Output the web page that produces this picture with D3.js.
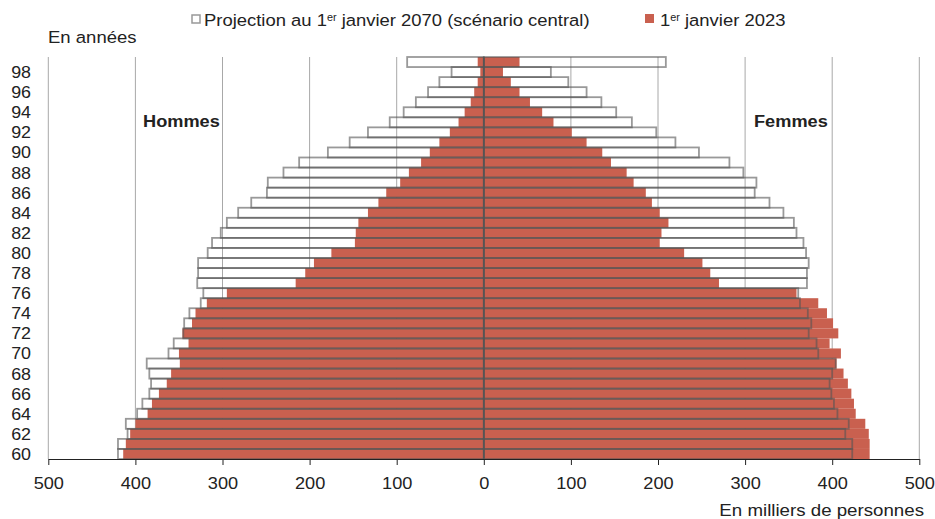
<!DOCTYPE html>
<html>
<head>
<meta charset="utf-8">
<script src="https://cdn.jsdelivr.net/npm/d3@7"></script>
<style>
  body { margin: 0; background: #fff; }
  text { font-family: "Liberation Sans", Arial, sans-serif; fill: #222; }
</style>
</head>
<body>
<svg id="svg" width="935" height="519"></svg>
<script>
// ages 60 .. 99 (99 = 99 ans et plus)
const ages = d3.range(60, 100);
const hommes2023 = [414, 411, 406, 400, 386, 381, 373, 364, 359, 349, 350, 339, 346, 335, 331, 318, 295, 216, 205, 195,
                    175, 148, 147, 144, 133, 121, 112, 96, 86, 72, 62, 51, 39, 29, 22, 15, 11, 7, 4, 7];
const hommes2070 = [420, 420, 409, 411, 398, 392, 384, 382, 384, 387, 362, 356, 345, 344, 338, 325, 322, 329, 328, 328,
                    317, 312, 302, 295, 282, 267, 249, 248, 230, 212, 179, 154, 133, 108, 92, 78, 64, 51, 37, 88];
const femmes2023 = [443, 443, 442, 438, 427, 425, 422, 418, 413, 405, 410, 397, 407, 401, 394, 384, 359, 270, 260, 251,
                    230, 202, 204, 212, 202, 193, 186, 172, 164, 146, 136, 118, 101, 80, 67, 53, 41, 31, 22, 41];
const femmes2070 = [423, 423, 415, 419, 406, 402, 399, 397, 400, 404, 384, 382, 373, 376, 372, 363, 361, 371, 371, 373,
                    370, 367, 359, 356, 344, 328, 311, 313, 298, 282, 247, 220, 198, 170, 152, 135, 118, 97, 77, 209];
const xTicks = [-500, -400, -300, -200, -100, 0, 100, 200, 300, 400, 500];
const yTicks = d3.range(60, 100, 2);

const svg = d3.select('#svg');
const x = d3.scaleLinear().domain([-500, 500]).range([48.3, 919.3]);
const y = d3.scaleBand().domain(ages.slice().reverse()).range([57, 459]).padding(0);

const red = '#c9604f';

// text stretched a little horizontally, like the original
function label(px, py, anchor, size, sx, bold) {
    return svg.append('g')
        .attr('transform', `translate(${px},${py}) scale(${sx},1)`)
        .append('text')
        .attr('text-anchor', anchor)
        .style('font-size', size + 'px')
        .style('font-weight', bold ? 'bold' : 'normal');
}

// grid
svg.append('g').selectAll('line')
    .data(xTicks.filter(d => d !== 0))
    .join('line')
    .attr('x1', d => x(d)).attr('x2', d => x(d))
    .attr('y1', 57).attr('y2', 459)
    .style('stroke', '#a8a8a8')
    .style('stroke-width', 1);

const rows = ages.map((a, i) => ({ age: a, h23: hommes2023[i], h70: hommes2070[i], f23: femmes2023[i], f70: femmes2070[i] }));

// 2023 bars
svg.append('g').selectAll('rect')
    .data(rows)
    .join('rect')
    .attr('x', d => x(-d.h23))
    .attr('y', d => y(d.age))
    .attr('width', d => x(0) - x(-d.h23))
    .attr('height', y.bandwidth())
    .style('fill', red);

svg.append('g').selectAll('rect')
    .data(rows)
    .join('rect')
    .attr('x', x(0))
    .attr('y', d => y(d.age))
    .attr('width', d => x(d.f23) - x(0))
    .attr('height', y.bandwidth())
    .style('fill', red);

// 2070 projection outlines
svg.append('g').selectAll('rect')
    .data(rows)
    .join('rect')
    .attr('x', d => x(-d.h70))
    .attr('y', d => y(d.age))
    .attr('width', d => x(0) - x(-d.h70))
    .attr('height', y.bandwidth())
    .style('fill', 'none')
    .style('stroke', '#555')
    .style('stroke-opacity', 0.6)
    .style('stroke-width', 1.8);

svg.append('g').selectAll('rect')
    .data(rows)
    .join('rect')
    .attr('x', x(0))
    .attr('y', d => y(d.age))
    .attr('width', d => x(d.f70) - x(0))
    .attr('height', y.bandwidth())
    .style('fill', 'none')
    .style('stroke', '#555')
    .style('stroke-opacity', 0.6)
    .style('stroke-width', 1.8);

// centre line
svg.append('line')
    .attr('x1', x(0)).attr('x2', x(0))
    .attr('y1', 57).attr('y2', 459)
    .style('stroke', '#555')
    .style('stroke-width', 1.5);

// x axis
const xAxis = svg.append('g')
    .attr('transform', 'translate(0,459)')
    .call(d3.axisBottom(x).tickValues(xTicks).tickFormat(d => Math.abs(d)).tickSize(6).tickSizeOuter(0));
xAxis.select('.domain').style('stroke', '#222').style('stroke-width', 1.2);
xAxis.selectAll('.tick line').style('stroke', '#222');
xAxis.selectAll('.tick text')
    .attr('y', 18)
    .attr('transform', 'scale(1.07,1)')
    .style('font-size', '17px')
    .style('font-family', '"Liberation Sans", Arial, sans-serif')
    .style('fill', '#222');

// y labels
yTicks.forEach(d => {
    label(31, y(d) + y.bandwidth() / 2 + 6, 'end', 17, 1.05, false).text(d);
});

label(48, 43, 'start', 17, 1.09, false).text('En années');
label(924, 516, 'end', 17, 1.1, false).text('En milliers de personnes');

label(143, 127, 'start', 17, 1.07, true).text('Hommes');
label(754, 127, 'start', 17, 1.07, true).text('Femmes');

// legend
svg.append('rect').attr('x', 192).attr('y', 15).attr('width', 8).attr('height', 8)
    .style('fill', '#fff').style('stroke', '#999').style('stroke-width', 1.5);
const l1 = label(204, 26, 'start', 17, 1.085, false);
l1.append('tspan').text('Projection au 1');
l1.append('tspan').attr('dy', -5).style('font-size', '10px').text('er');
l1.append('tspan').attr('dy', 5).text(' janvier 2070 (scénario central)');

svg.append('rect').attr('x', 645).attr('y', 14).attr('width', 9).attr('height', 9).style('fill', red);
const l2 = label(660, 26, 'start', 17, 1.085, false);
l2.append('tspan').text('1');
l2.append('tspan').attr('dy', -5).style('font-size', '10px').text('er');
l2.append('tspan').attr('dy', 5).text(' janvier 2023');
</script>
</body>
</html>
